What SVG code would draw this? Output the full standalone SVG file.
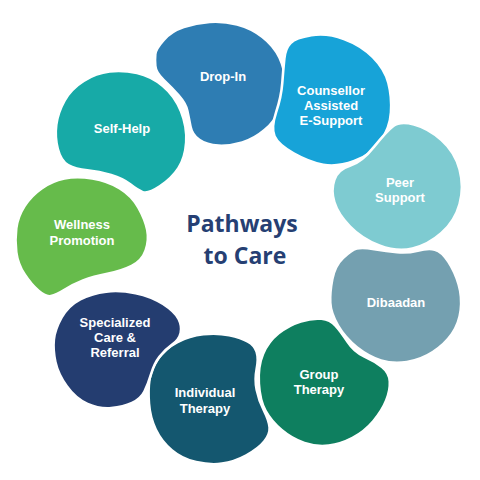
<svg xmlns="http://www.w3.org/2000/svg" width="480" height="480" viewBox="0 0 480 480">
<style>
.blob{stroke:#ffffff;stroke-width:2.5;stroke-linejoin:round}
.lbl{font-family:"Liberation Sans","Open Sans",sans-serif;font-weight:700;font-size:13px;fill:#ffffff;text-anchor:middle}
.title{font-family:"Open Sans","Liberation Sans",sans-serif;font-weight:700;font-size:23px;fill:#263f73;text-anchor:middle}
</style>
<rect width="480" height="480" fill="#ffffff"/>
<g id="connectors"></g>
<g id="drop-in">
<path class="blob" fill="#2e7db3" transform="translate(220,83) scale(1.035) translate(-220,-83)" d="M 165.5,41.5 Q 173,33 185,29 Q 197,25 210,24 Q 223,23 236.5,26.5 Q 250,30 261,38.5 Q 272,47 277.5,58.5 Q 283,70 283,83.5 Q 283,97 278,108.5 Q 273,120 263,128.5 Q 253,137 241.5,140.5 Q 230,144 218.5,143.5 Q 207,143 200,138 Q 193,133 191.5,125 Q 190,117 188.5,110 Q 187,103 180,95 Q 173,87 165.5,80 Q 158,73 157.5,66.5 Q 157,60 157.5,55 Q 158,50 165.5,41.5 Z"/>
<text class="lbl" x="223" y="81">Drop-In</text>
</g>
<g id="counsellor">
<path class="blob" fill="#17a3d8" transform="translate(333,100) scale(1.035) translate(-333,-100)" d="M 286,60 Q 285,70 284,83.5 Q 283,97 278,112 Q 273,127 276.5,135 Q 280,143 295,151.5 Q 310,160 323.5,162.5 Q 337,165 353.5,159 Q 370,153 379,140 Q 388,127 389,112 Q 390,97 386.5,83.5 Q 383,70 371.5,58.5 Q 360,47 343.5,41 Q 327,35 312,37.5 Q 297,40 292,45 Q 287,50 286,60 Z"/>
<text class="lbl" x="331" y="95"><tspan x="331" y="95">Counsellor</tspan><tspan x="331" y="110">Assisted</tspan><tspan x="331" y="125">E-Support</tspan></text>
</g>
<g id="peer">
<path class="blob" fill="#7ecbd1" transform="translate(398,187) scale(1.035) translate(-398,-187)" d="M 351.5,166.5 Q 363,163 375,148 Q 387,133 393.5,128 Q 400,123 413.5,126.5 Q 427,130 440,141.5 Q 453,153 457.5,170 Q 462,187 457.5,203.5 Q 453,220 440,231.5 Q 427,243 412,246.5 Q 397,250 380,243.5 Q 363,237 351.5,225 Q 340,213 336.5,201.5 Q 333,190 336.5,180 Q 340,170 351.5,166.5 Z"/>
<text class="lbl" x="400" y="187"><tspan x="400" y="187">Peer</tspan><tspan x="400" y="202">Support</tspan></text>
</g>
<g id="dibaadan">
<path class="blob" fill="#74a0b0" transform="translate(396,305) scale(1.035) translate(-396,-305)" d="M 345,259.5 Q 353,252 358,250.5 Q 363,249 375,251 Q 387,253 397,254 Q 407,255 417,252.5 Q 427,250 433.5,251.5 Q 440,253 446.5,263 Q 453,273 456.5,285 Q 460,297 458.5,310 Q 457,323 450,333 Q 443,343 431.5,350.5 Q 420,358 406.5,360 Q 393,362 381.5,358.5 Q 370,355 358.5,346 Q 347,337 340,325 Q 333,313 332.5,303 Q 332,293 334.5,280 Q 337,267 345,259.5 Z"/>
<text class="lbl" x="396" y="307">Dibaadan</text>
</g>
<g id="group-therapy">
<path class="blob" fill="#0e7f5f" transform="translate(322,383) scale(1.035) translate(-322,-383)" d="M 265,355 Q 270,343 280,335 Q 290,327 301.5,323.5 Q 313,320 321.5,321 Q 330,322 335,327.5 Q 340,333 346.5,343 Q 353,353 363,357.5 Q 373,362 380,367.5 Q 387,373 387.5,381.5 Q 388,390 384,400 Q 380,410 371.5,420 Q 363,430 351.5,436 Q 340,442 328.5,443.5 Q 317,445 305,441 Q 293,437 283,428.5 Q 273,420 267.5,410 Q 262,400 261,383.5 Q 260,367 265,355 Z"/>
<text class="lbl" x="319" y="379"><tspan x="319" y="379">Group</tspan><tspan x="319" y="394">Therapy</tspan></text>
</g>
<g id="individual-therapy">
<path class="blob" fill="#14576f" transform="translate(208,400) scale(1.035) translate(-208,-400)" d="M 160,360 Q 167,350 178.5,344 Q 190,338 203.5,336.5 Q 217,335 228.5,337.5 Q 240,340 246.5,343.5 Q 253,347 255,353.5 Q 257,360 255,370 Q 253,380 255,390 Q 257,400 262,410 Q 267,420 267.5,426.5 Q 268,433 262.5,440 Q 257,447 245,453.5 Q 233,460 221.5,461.5 Q 210,463 196.5,460 Q 183,457 173,448.5 Q 163,440 157.5,428.5 Q 152,417 151,403.5 Q 150,390 151.5,380 Q 153,370 160,360 Z"/>
<text class="lbl" x="205" y="397"><tspan x="205" y="397">Individual</tspan><tspan x="205" y="413">Therapy</tspan></text>
</g>
<g id="specialized">
<path class="blob" fill="#243d70" transform="translate(117,348) scale(1.035) translate(-117,-348)" d="M 63.5,318.5 Q 70,307 81.5,301 Q 93,295 106.5,293.5 Q 120,292 135,295 Q 150,298 161.5,305.5 Q 173,313 176.5,320 Q 180,327 178.5,333.5 Q 177,340 170,345 Q 163,350 158,356.5 Q 153,363 150,373 Q 147,383 143.5,390 Q 140,397 131.5,401 Q 123,405 111.5,406 Q 100,407 88.5,402 Q 77,397 68.5,385 Q 60,373 57.5,361.5 Q 55,350 56,340 Q 57,330 63.5,318.5 Z"/>
<text class="lbl" x="115" y="327"><tspan x="115" y="327">Specialized</tspan><tspan x="115" y="342">Care &amp;</tspan><tspan x="115" y="357">Referral</tspan></text>
</g>
<g id="wellness">
<path class="blob" fill="#66bb4b" transform="translate(82,236) scale(1.035) translate(-82,-236)" d="M 26.5,207 Q 33,197 43,190 Q 53,183 65,180.5 Q 77,178 92,180.5 Q 107,183 118.5,190 Q 130,197 136.5,208.5 Q 143,220 145,230 Q 147,240 143.5,250 Q 140,260 130,265 Q 120,270 106.5,272.5 Q 93,275 83,279 Q 73,283 65,288 Q 57,293 52,294 Q 47,295 40,289 Q 33,283 26.5,273 Q 20,263 18.5,251.5 Q 17,240 18.5,228.5 Q 20,217 26.5,207 Z"/>
<text class="lbl" x="82" y="228.5"><tspan x="82" y="228.5">Wellness</tspan><tspan x="82" y="244.5">Promotion</tspan></text>
</g>
<g id="self-help">
<path class="blob" fill="#17aaa7" transform="translate(122,130) scale(1.035) translate(-122,-130)" d="M 66.5,101.5 Q 73,90 85,82.5 Q 97,75 110,73.5 Q 123,72 136.5,75 Q 150,78 161.5,87.5 Q 173,97 179,112 Q 185,127 184,142 Q 183,157 176.5,167 Q 170,177 158.5,184.5 Q 147,192 142,190 Q 137,188 130,182.5 Q 123,177 111.5,173.5 Q 100,170 88.5,169 Q 77,168 70,164 Q 63,160 60,148.5 Q 57,137 58.5,125 Q 60,113 66.5,101.5 Z"/>
<text class="lbl" x="122" y="133">Self-Help</text>
</g>
<g id="title">
<text class="title" x="242" y="232"><tspan x="242" y="232">Pathways</tspan><tspan x="245" y="264">to Care</tspan></text>
</g>
</svg>
